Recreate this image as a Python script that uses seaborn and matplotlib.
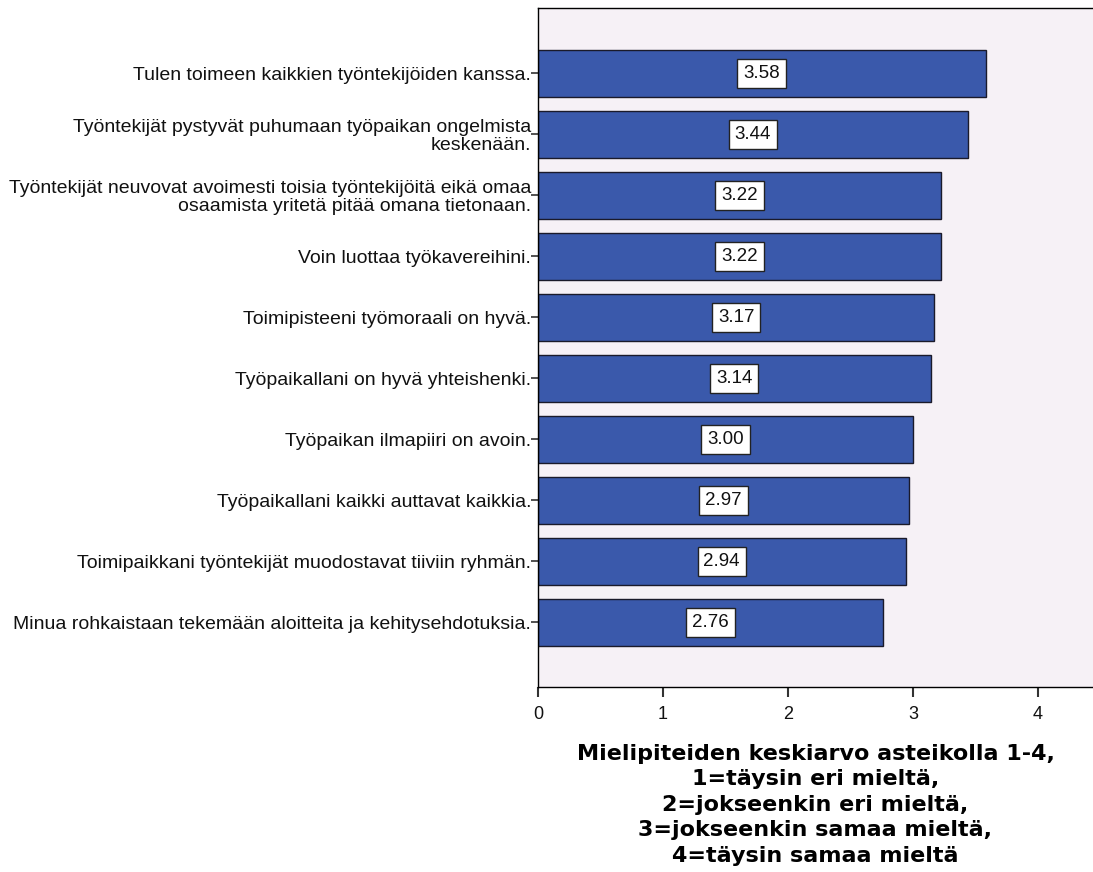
import matplotlib
matplotlib.use("Agg")
import matplotlib.pyplot as plt
import seaborn as sns
import pandas as pd

categories = [
    "Tulen toimeen kaikkien työntekijöiden kanssa.",
    "Työntekijät pystyvät puhumaan työpaikan ongelmista\nkeskenään.",
    "Työntekijät neuvovat avoimesti toisia työntekijöitä eikä omaa\nosaamista yritetä pitää omana tietonaan.",
    "Voin luottaa työkavereihini.",
    "Toimipisteeni työmoraali on hyvä.",
    "Työpaikallani on hyvä yhteishenki.",
    "Työpaikan ilmapiiri on avoin.",
    "Työpaikallani kaikki auttavat kaikkia.",
    "Toimipaikkani työntekijät muodostavat tiiviin ryhmän.",
    "Minua rohkaistaan tekemään aloitteita ja kehitysehdotuksia.",
]
values = [3.58, 3.44, 3.22, 3.22, 3.17, 3.14, 3.00, 2.97, 2.94, 2.76]
x_ticks = [0, 1, 2, 3, 4]
x_label = ("Mielipiteiden keskiarvo asteikolla 1-4,\n1=täysin eri mieltä,\n"
           "2=jokseenkin eri mieltä,\n3=jokseenkin samaa mieltä,\n4=täysin samaa mieltä")

df = pd.DataFrame({"cat": categories, "val": values})

sns.set_theme(style="white")
plt.rcParams["font.family"] = ["Liberation Sans", "DejaVu Sans"]

fig = plt.figure(figsize=(10.93, 8.72), dpi=100)
ax = fig.add_axes([538 / 1093, 1 - 687 / 872, 1 - 538 / 1093, 679 / 872])
ax.set_facecolor("#F6F1F6")

sns.barplot(data=df, x="val", y="cat", orient="h", color="#3A59AB",
            saturation=1, width=0.77, edgecolor="#1a1a2a", linewidth=1.0, ax=ax)

ax.set_xlim(0, 4.44)
ax.set_ylim(10.06, -1.07)
ax.set_xticks(x_ticks)
ax.set_xticklabels([str(t) for t in x_ticks])
ax.set_ylabel("")
ax.set_xlabel(x_label, fontsize=16, fontweight="bold", family="DejaVu Sans",
              labelpad=15, linespacing=1.35, color="black")

ax.tick_params(axis="y", length=5, width=1.2, color="#333333", labelsize=14,
               labelcolor="#111111", pad=0, left=True)
ax.tick_params(axis="x", length=7.5, width=1.5, color="#333333", labelsize=13,
               labelcolor="#111111", pad=6, bottom=True)

for s in ["left", "top", "bottom"]:
    ax.spines[s].set_color("black")
    ax.spines[s].set_linewidth(1.0)
ax.spines["right"].set_visible(False)

for lbl in ax.get_yticklabels():
    lbl.set_linespacing(1.05)

for i, v in enumerate(values):
    ax.text(v / 2, i, f"{v:.2f}", ha="center", va="center", fontsize=13.5,
            color="#111111",
            bbox=dict(boxstyle="square,pad=0.32", facecolor="white",
                      edgecolor="#222222", linewidth=1.0))

fig.savefig("out.png", dpi=100, facecolor="white")
